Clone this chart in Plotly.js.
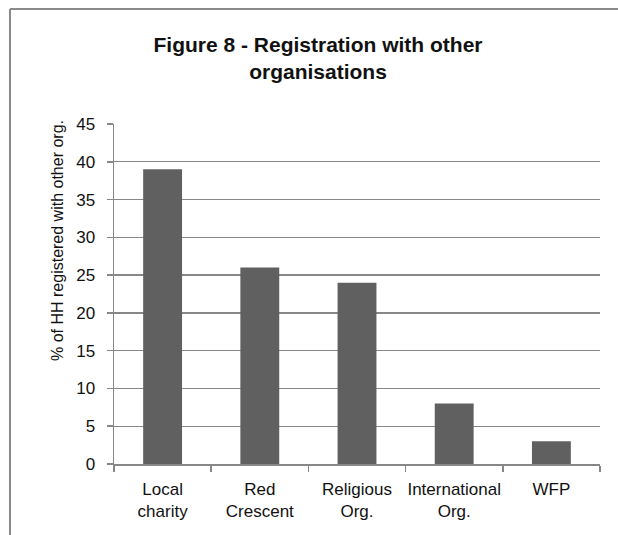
<!DOCTYPE html>
<html>
<head>
<meta charset="utf-8">
<script src="https://cdn.plot.ly/plotly-3.0.1.min.js"></script>
<style>
  html, body { margin: 0; padding: 0; background: #ffffff; }
  #chart { width: 618px; height: 535px; }
</style>
</head>
<body>
<div id="chart"></div>
<script>
// Data
const categories = ["Local<br>charity", "Red<br>Crescent", "Religious<br>Org.", "International<br>Org.", "WFP"];
const values = [39, 26, 24, 8, 3];
const titleText = "Figure 8 - Registration with other<br>organisations";
const yTitleText = "% of HH registered with other org.";
const yTickValues = [0, 5, 10, 15, 20, 25, 30, 35, 40, 45];

const FONT = "'Liberation Sans', Arial, sans-serif";
const GRID = "#878787";

const trace = {
  type: "bar",
  x: categories,
  y: values,
  marker: { color: "#606060", line: { width: 0 } },
  hoverinfo: "skip"
};

const layout = {
  width: 618,
  height: 535,
  paper_bgcolor: "#ffffff",
  plot_bgcolor: "#ffffff",
  margin: { l: 114, r: 18, t: 124, b: 71, pad: 0 },
  font: { family: FONT, color: "#111111" },
  title: {
    text: titleText,
    font: { family: FONT, size: 21, color: "#111111", weight: "bold" },
    x: 318 / 618,
    xanchor: "center",
    y: 1 - 52 / 535,
    yanchor: "top"
  },
  bargap: 0.6,
  showlegend: false,
  xaxis: {
    type: "category",
    showgrid: false,
    showline: true,
    linecolor: GRID,
    linewidth: 1.5,
    ticks: "outside",
    tickson: "boundaries",
    ticklen: 6,
    tickwidth: 1.5,
    tickcolor: GRID,
    ticklabelstandoff: 9,
    tickfont: { family: FONT, size: 17, color: "#111111" },
    tickangle: 0,
    zeroline: false,
    fixedrange: true
  },
  yaxis: {
    range: [0, 45],
    tickvals: yTickValues,
    showgrid: true,
    gridcolor: GRID,
    gridwidth: 1.3,
    showline: true,
    linecolor: GRID,
    linewidth: 1.5,
    ticks: "outside",
    ticklen: 6,
    tickwidth: 1.5,
    tickcolor: GRID,
    ticklabelstandoff: 8,
    tickfont: { family: FONT, size: 17, color: "#111111" },
    zeroline: false,
    fixedrange: true
  },
  annotations: [{
    text: yTitleText,
    xref: "paper", yref: "paper",
    x: (57 - 114) / 486, y: (464 - 241) / 340,
    xanchor: "center", yanchor: "middle",
    textangle: -90,
    showarrow: false,
    font: { family: FONT, size: 16, color: "#111111" }
  }],
  shapes: [
    { type: "line", xref: "paper", yref: "paper",
      x0: (10 - 114) / 486, x1: (10 - 114) / 486,
      y0: (464 - 540) / 340, y1: (464 - 9) / 340,
      line: { color: "#8a8a8a", width: 2 } },
    { type: "line", xref: "paper", yref: "paper",
      x0: (10 - 114) / 486, x1: (625 - 114) / 486,
      y0: (464 - 9) / 340, y1: (464 - 9) / 340,
      line: { color: "#8a8a8a", width: 2 } }
  ]
};

Plotly.newPlot("chart", [trace], layout, { displayModeBar: false, staticPlot: true });
</script>
</body>
</html>
